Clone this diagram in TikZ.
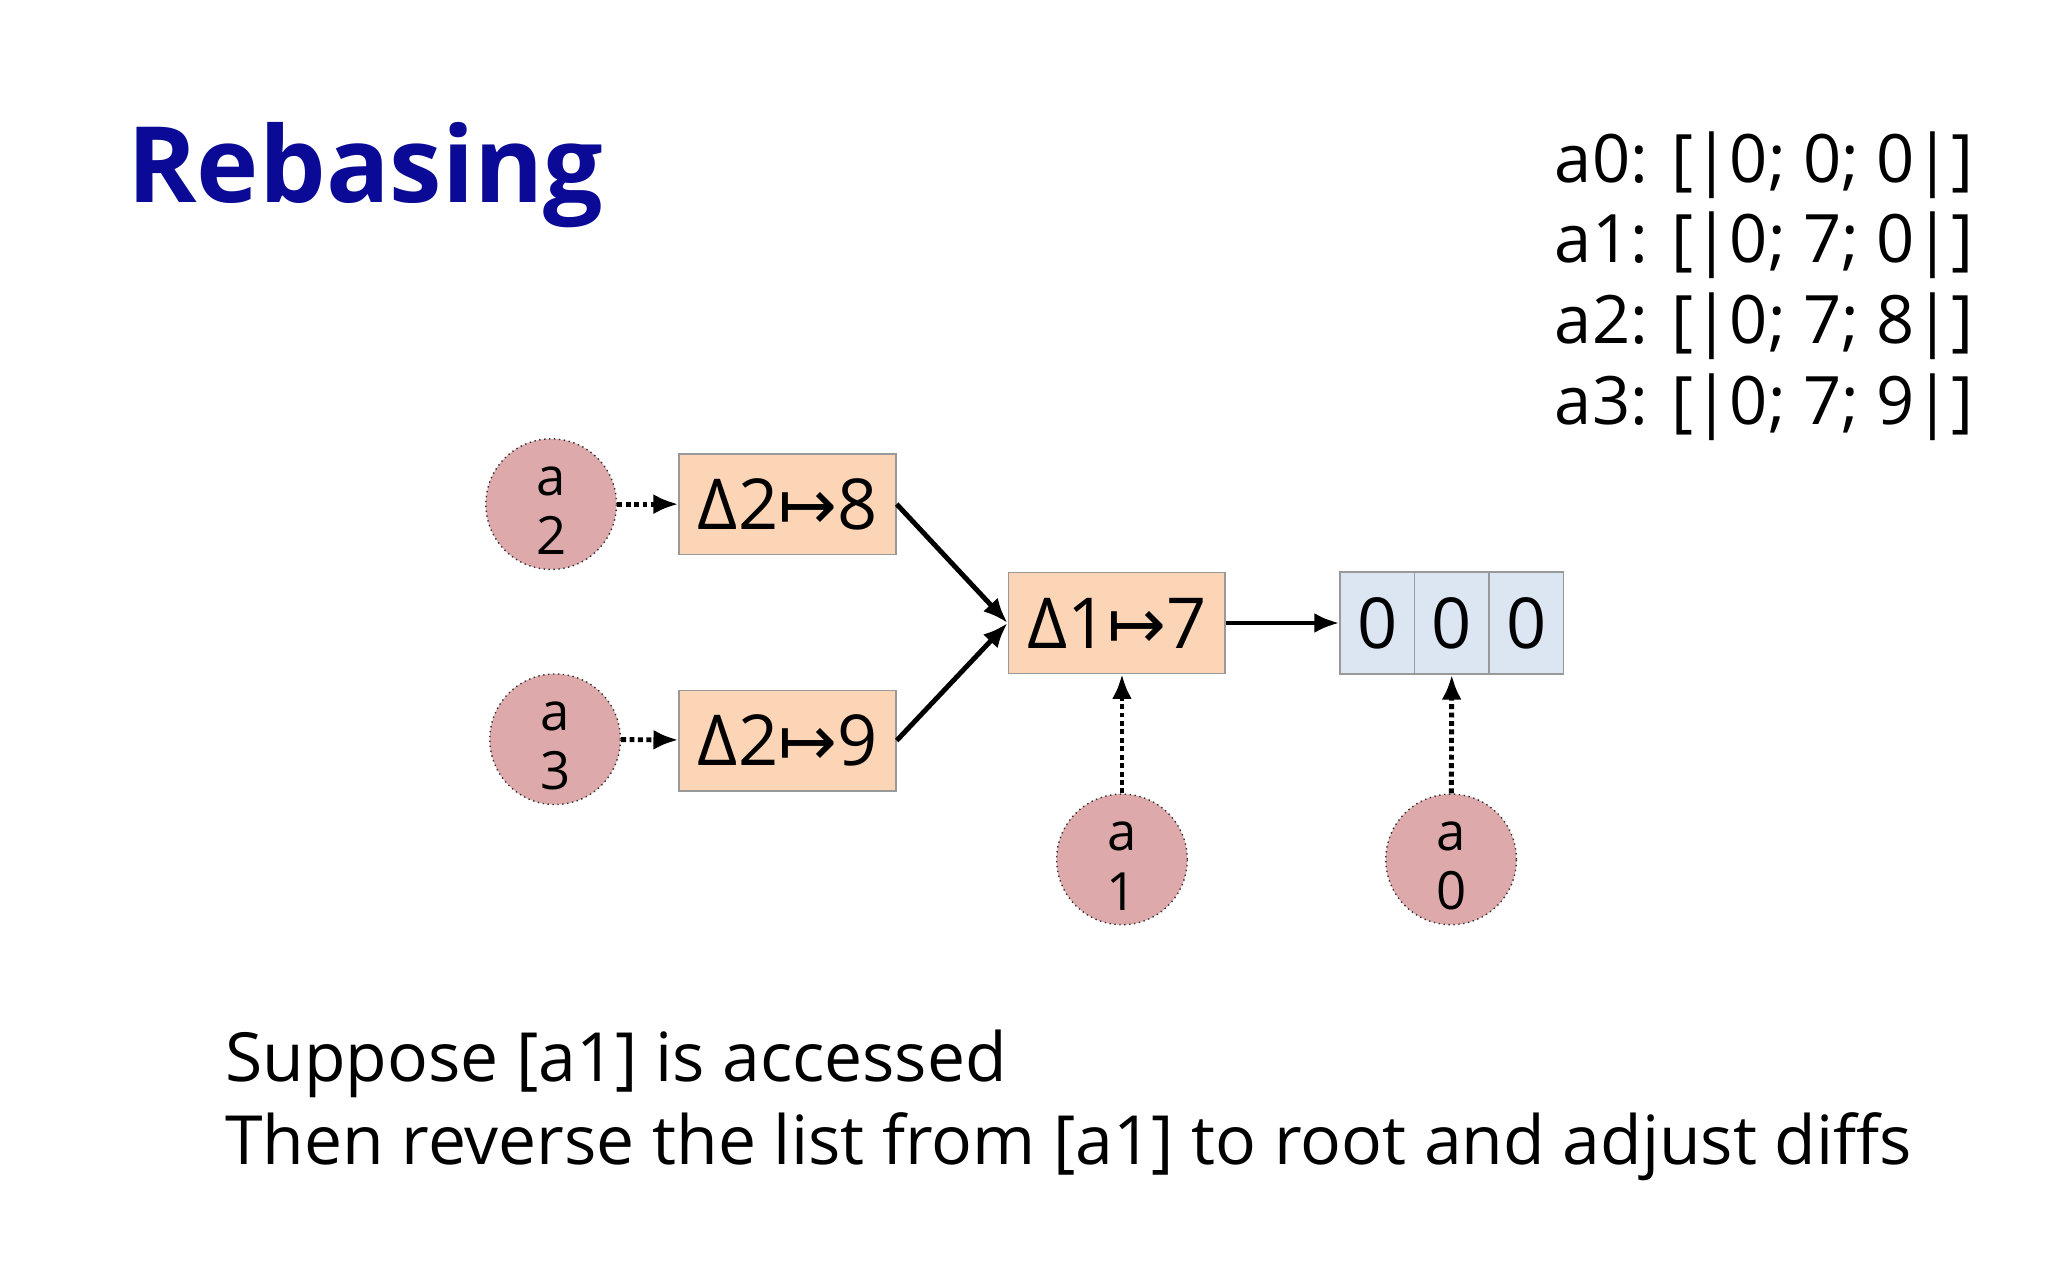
\documentclass[tikz,border=0pt]{standalone}
\usepackage{fontspec}
\setmainfont{Open Sans}
\newfontfamily\djv{DejaVu Sans}
\usetikzlibrary{arrows.meta}
\definecolor{titleblue}{HTML}{0A0A96}
\definecolor{circfill}{HTML}{DDA9AA}
\definecolor{peach}{HTML}{FBD5B5}
\definecolor{lblue}{HTML}{DCE6F2}
\tikzset{
  var/.style={circle,draw=black!80,densely dotted,fill=circfill,minimum size=100*0.01306cm,inner sep=0pt,align=center,font=\fontsize{15}{17}\selectfont},
  diff/.style={draw=black!40,fill=peach,minimum width=166*0.01306cm,minimum height=77*0.01306cm,inner sep=0pt,font=\fontsize{20}{24}\selectfont},
  cell/.style={draw=black!40,fill=lblue,minimum width=57*0.01306cm,minimum height=78*0.01306cm,inner sep=0pt,font=\fontsize{20}{24}\selectfont},
  dotarr/.style={densely dotted,line width=1.4pt,-{Latex[length=2.5mm,width=2mm]}},
  solarr/.style={line width=1.4pt,-{Latex[length=2.5mm,width=2mm]}},
}
\newcommand{\mt}{{\djv\char"21A6}}
\begin{document}
\begin{tikzpicture}[x=0.01306cm,y=-0.01306cm]
\useasboundingbox (0,0) rectangle (1568,980);
\node[anchor=base west,font=\fontsize{30}{34}\selectfont\bfseries,text=titleblue,inner sep=0pt] (title) at (97,155) {Rebasing};
\node[anchor=north west,align=left,inner sep=0pt,font=\fontsize{19}{23}\selectfont] (vals) at (1190,100)
 {a0: [|0; 0; 0|]\\a1: [|0; 7; 0|]\\a2: [|0; 7; 8|]\\a3: [|0; 7; 9|]};
\node[diff] (d8) at (603,386) {Δ2\mt8};
\node[diff] (d9) at (603,567) {Δ2\mt9};
\node[diff] (d7) at (855,477) {Δ1\mt7};
\node[cell] (c1) at (1054.5,477) {0};
\node[cell] (c2) at (1111.5,477) {0};
\node[cell] (c3) at (1168.5,477) {0};
\node[var] (a2) at (422,386) {\strut a\\2};
\node[var] (a3) at (425,566) {\strut a\\3};
\node[var] (a1) at (859,658) {\strut a\\1};
\node[var] (a0) at (1111,658) {\strut a\\0};
\draw[dotarr] (a2) -- (d8);
\draw[dotarr] (a3) -- (d9);
\draw[solarr] (d8.east) -- (d7.west);
\draw[solarr] (d9.east) -- (d7.west);
\draw[solarr] (d7) -- (c1);
\draw[dotarr] (a1) -- (a1 |- d7.south);
\draw[dotarr] (a0) -- (c2.south);
\node[anchor=north west,align=left,inner sep=0pt,font=\fontsize{19.3}{23.5}\selectfont] (txt) at (172,788)
 {Suppose [a1] is accessed\\Then reverse the list from [a1] to root and adjust diffs};
\end{tikzpicture}
\end{document}
